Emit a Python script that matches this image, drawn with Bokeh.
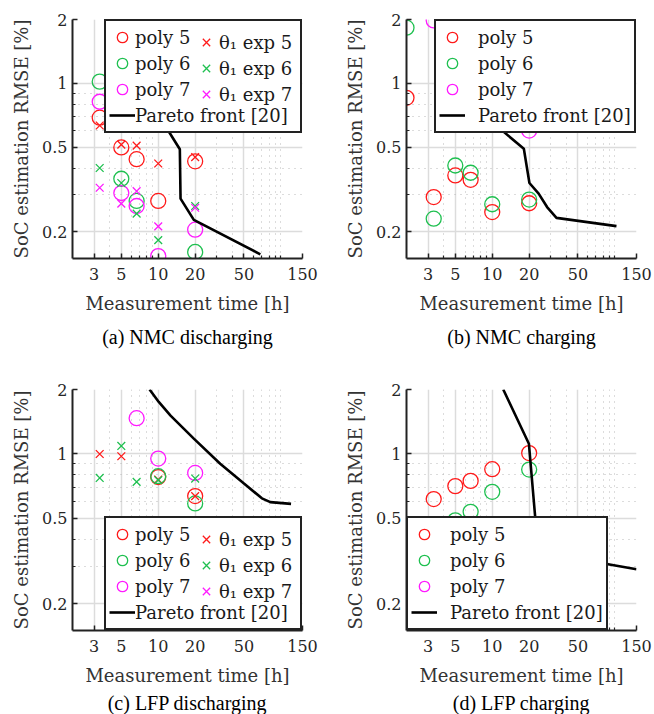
from bokeh.plotting import figure
from bokeh.layouts import column, row
from bokeh.models import FixedTicker, Legend, LegendItem, Title, Range1d
from bokeh.embed import file_html
from bokeh.resources import INLINE

NAN = float("nan")

# ---------------- data ----------------
# (a) NMC discharging
a_poly5_x = [10 / 3, 5, 20 / 3, 10, 20]
a_poly5_y = [0.69, 0.50, 0.44, 0.28, 0.43]
a_exp5_x = [10 / 3, 5, 20 / 3, 10, 20]
a_exp5_y = [0.634, 0.515, 0.51, 0.42, 0.45]
a_poly6_x = [10 / 3, 5, 20 / 3, 20]
a_poly6_y = [1.02, 0.356, 0.28, 0.161]
a_exp6_x = [10 / 3, 5, 20 / 3, 10, 20]
a_exp6_y = [0.40, 0.34, 0.244, 0.183, 0.265]
a_poly7_x = [10 / 3, 5, 20 / 3, 10, 20]
a_poly7_y = [0.82, 0.305, 0.265, 0.154, 0.205]
a_exp7_x = [10 / 3, 5, 20 / 3, 10, 20]
a_exp7_y = [0.323, 0.272, 0.311, 0.2125, 0.26]
a_pareto_x = [9, 11.8, 15, 15.2, 19.5, 68]
a_pareto_y = [0.80, 0.612, 0.49, 0.287, 0.228, 0.157]

# (b) NMC charging
b_poly5_x = [2, 10 / 3, 5, 20 / 3, 10, 20]
b_poly5_y = [0.856, 0.292, 0.369, 0.352, 0.248, 0.273]
b_poly6_x = [2, 10 / 3, 5, 20 / 3, 10, 20]
b_poly6_y = [1.83, 0.231, 0.411, 0.38, 0.27, 0.284]
b_poly7_x = [10 / 3, 20 / 3, 20]
b_poly7_y = [1.98, 0.64, 0.60]
b_pareto_x = [9, 12.05, 18.1, 20.1, 23.9, 28, 33.4, 103]
b_pareto_y = [0.80, 0.60, 0.493, 0.34, 0.303, 0.262, 0.233, 0.213]

# (c) LFP discharging
c_poly5_x = [10, 20]
c_poly5_y = [0.78, 0.636]
c_exp5_x = [10 / 3, 5, 10, 20]
c_exp5_y = [1.0, 0.976, 0.76, 0.636]
c_poly6_x = [10, 20]
c_poly6_y = [0.788, 0.588]
c_exp6_x = [10 / 3, 5, 20 / 3, 10, 20]
c_exp6_y = [0.773, 1.09, 0.741, 0.755, 0.768]
c_poly7_x = [20 / 3, 10, 20]
c_poly7_y = [1.47, 0.952, 0.816]
c_exp7_x = [NAN]          # no visible points
c_exp7_y = [NAN]
c_pareto_x = [8.5, 10.1, 12.6, 19.5, 32, 50, 70, 82, 121]
c_pareto_y = [2.0, 1.75, 1.51, 1.18, 0.90, 0.728, 0.621, 0.596, 0.585]

# (d) LFP charging
d_poly5_x = [10 / 3, 5, 20 / 3, 10, 20]
d_poly5_y = [0.616, 0.708, 0.749, 0.849, 1.01]
d_poly6_x = [5, 20 / 3, 10, 20]
d_poly6_y = [0.49, 0.537, 0.666, 0.846]
d_poly7_x = [NAN]         # no visible points
d_poly7_y = [NAN]
d_pareto_x = [12.3, 19.9, 22.5, 24.5, 88, 150]
d_pareto_y = [2.0, 1.117, 0.492, 0.33, 0.306, 0.29]

# axes
x_ticks = [3, 5, 10, 20, 50, 150]
x_tick_labels = ["3", "5", "10", "20", "50", "150"]
x_minor = [4, 6, 7, 8, 9, 30, 40, 60, 70, 80, 90, 100]
y_ticks = [0.2, 0.5, 1, 2]
y_tick_labels = ["0.2", "0.5", "1", "2"]
y_minor = [0.3, 0.4, 0.6, 0.7, 0.8, 0.9]

captions = ["(a) NMC discharging", "(b) NMC charging", "(c) LFP discharging", "(d) LFP charging"]
x_label = "Measurement time [h]"
y_label = "SoC estimation RMSE [%]"

RED = "#ff1a1a"
GREEN = "#1fc050"
MAGENTA = "#ff1aff"
AX = "#222222"
SERIF = "'DejaVu Serif', serif"
TIMES = "'Liberation Serif', serif"

FRAME_W = 230
ROW = 26      # legend row pitch
PAD = 3
EXTRA = 3     # extra size bokeh adds around the legend box


def make_fig(width, height, left, top, frame_h, caption, cap_standoff):
    p = figure(width=width, height=height, x_axis_type="log", y_axis_type="log",
               x_range=Range1d(2, 150), y_range=Range1d(0.15, 2),
               output_backend="svg", toolbar_location=None,
               min_border_left=left, min_border_right=width - left - FRAME_W,
               min_border_top=top, min_border_bottom=height - top - frame_h)
    p.outline_line_color = None
    p.background_fill_color = "white"
    p.border_fill_color = "white"

    xt = FixedTicker(ticks=x_ticks, minor_ticks=x_minor)
    yt = FixedTicker(ticks=y_ticks, minor_ticks=y_minor)
    p.xaxis.ticker = xt
    p.yaxis.ticker = yt
    p.xgrid.ticker = xt
    p.ygrid.ticker = yt
    p.xaxis.major_label_overrides = dict(zip(x_ticks, x_tick_labels))
    p.yaxis.major_label_overrides = dict(zip(y_ticks, y_tick_labels))

    for ax in (p.xaxis, p.yaxis):
        ax.axis_line_color = AX
        ax.axis_line_width = 2
        ax.major_tick_in = 5
        ax.major_tick_out = 0
        ax.minor_tick_in = 3
        ax.minor_tick_out = 0
        ax.major_tick_line_color = AX
        ax.minor_tick_line_color = AX
        ax.major_tick_line_width = 1.5
        ax.minor_tick_line_width = 1.2
        ax.major_label_text_font = SERIF
        ax.major_label_text_font_size = "16px"
        ax.major_label_text_color = "#262626"
        ax.axis_label_text_font = SERIF
        ax.axis_label_text_font_size = "18px"
        ax.axis_label_text_font_style = "normal"
        ax.axis_label_text_color = "#333333"
    p.xaxis.axis_label = x_label
    p.yaxis.axis_label = y_label
    p.xaxis.major_label_standoff = 9
    p.xaxis.axis_label_standoff = 10
    p.yaxis.major_label_standoff = 5
    p.yaxis.axis_label_standoff = 7

    for g in (p.xgrid, p.ygrid):
        g.grid_line_color = "#dcdcdc"
        g.grid_line_width = 1.5
        g.minor_grid_line_color = "#b8b8b8"
        g.minor_grid_line_dash = "1 5"
        g.minor_grid_line_width = 1

    p.add_layout(Title(text=caption, align="center", text_font=TIMES,
                       text_font_size="20px", text_font_style="normal",
                       text_color="black", standoff=cap_standoff), "below")
    return p


def circles(p, x, y, color):
    return p.scatter(x, y, marker="circle", size=15, fill_color=None,
                     line_color=color, line_width=1.3)


def crosses(p, x, y, color):
    return p.scatter(x, y, marker="x", size=11, line_color=color, line_width=1.3)


def pareto(p, x, y):
    return p.line(x, y, line_color="black", line_width=2.6)


def style_legend(lg, glyph_w, standoff, label_w, loc, border=True):
    lg.location = loc
    lg.orientation = "vertical"
    lg.padding = PAD
    lg.spacing = 0
    lg.margin = 0
    lg.glyph_width = glyph_w
    lg.glyph_height = ROW
    lg.label_height = ROW
    lg.label_width = label_w
    lg.label_standoff = standoff
    lg.label_text_font = SERIF
    lg.label_text_font_size = "18px"
    lg.label_text_color = "#1a1a1a"
    lg.label_text_baseline = "middle"
    if border:
        lg.border_line_color = AX
        lg.border_line_alpha = 1.0
        lg.border_line_width = 2
        lg.background_fill_color = "white"
        lg.background_fill_alpha = 1
    else:
        lg.border_line_color = None
        lg.background_fill_alpha = 0


H1 = 2 * PAD + 4 * ROW + EXTRA
H2 = 2 * PAD + 3 * ROW + EXTRA


def make_legend(rs, labels):
    return Legend(items=[LegendItem(label=l, renderers=[r]) for l, r in zip(labels, rs)])


poly_labels = ["poly 5", "poly 6", "poly 7", "Pareto front [20]"]
exp_labels = ["θ₁ exp 5", "θ₁ exp 6", "θ₁ exp 7"]

# ---- (a)
pa = make_fig(327, 357, 72, 19, 239, captions[0], 14)
ra1 = circles(pa, a_poly5_x, a_poly5_y, RED)
ra2 = circles(pa, a_poly6_x, a_poly6_y, GREEN)
ra3 = circles(pa, a_poly7_x, a_poly7_y, MAGENTA)
ra4 = crosses(pa, a_exp5_x, a_exp5_y, RED)
ra5 = crosses(pa, a_exp6_x, a_exp6_y, GREEN)
ra6 = crosses(pa, a_exp7_x, a_exp7_y, MAGENTA)
ra7 = pareto(pa, a_pareto_x, a_pareto_y)
lga1 = make_legend([ra1, ra2, ra3, ra7], poly_labels)
style_legend(lga1, 26, 0, 162, (32, 239 - H1 - 1))
lga2 = make_legend([ra4, ra5, ra6], exp_labels)
style_legend(lga2, 26, -7, 60, (121, 239 - H2 - 1), border=False)
pa.add_layout(lga1)
pa.add_layout(lga2)

# ---- (b)
pb = make_fig(327, 357, 79, 19, 239, captions[1], 14)
rb1 = circles(pb, b_poly5_x, b_poly5_y, RED)
rb2 = circles(pb, b_poly6_x, b_poly6_y, GREEN)
rb3 = circles(pb, b_poly7_x, b_poly7_y, MAGENTA)
rb4 = pareto(pb, b_pareto_x, b_pareto_y)
lgb = make_legend([rb1, rb2, rb3, rb4], poly_labels)
style_legend(lgb, 26, 13, 153, (28, 239 - H1 - 1))
pb.add_layout(lgb)

# ---- (c)
pc = make_fig(327, 357, 72, 32, 241, captions[2], 2)
rc1 = circles(pc, c_poly5_x, c_poly5_y, RED)
rc2 = circles(pc, c_poly6_x, c_poly6_y, GREEN)
rc3 = circles(pc, c_poly7_x, c_poly7_y, MAGENTA)
rc4 = crosses(pc, c_exp5_x, c_exp5_y, RED)
rc5 = crosses(pc, c_exp6_x, c_exp6_y, GREEN)
rc6 = crosses(pc, c_exp7_x, c_exp7_y, MAGENTA)
rc7 = pareto(pc, c_pareto_x, c_pareto_y)
lgc1 = make_legend([rc1, rc2, rc3, rc7], poly_labels)
style_legend(lgc1, 26, 0, 162, (32, 0))
lgc2 = make_legend([rc4, rc5, rc6], exp_labels)
style_legend(lgc2, 26, -7, 60, (121, H1 - H2), border=False)
pc.add_layout(lgc1)
pc.add_layout(lgc2)

# ---- (d)
pd_ = make_fig(327, 357, 79, 32, 241, captions[3], 2)
rd1 = circles(pd_, d_poly5_x, d_poly5_y, RED)
rd2 = circles(pd_, d_poly6_x, d_poly6_y, GREEN)
rd3 = circles(pd_, d_poly7_x, d_poly7_y, MAGENTA)
rd4 = pareto(pd_, d_pareto_x, d_pareto_y)
lgd = make_legend([rd1, rd2, rd3, rd4], poly_labels)
style_legend(lgd, 26, 13, 153, (0, 0))
pd_.add_layout(lgd)

layout = column(row(pa, pb), row(pc, pd_))
open("out.html", "w").write(file_html(layout, INLINE))
